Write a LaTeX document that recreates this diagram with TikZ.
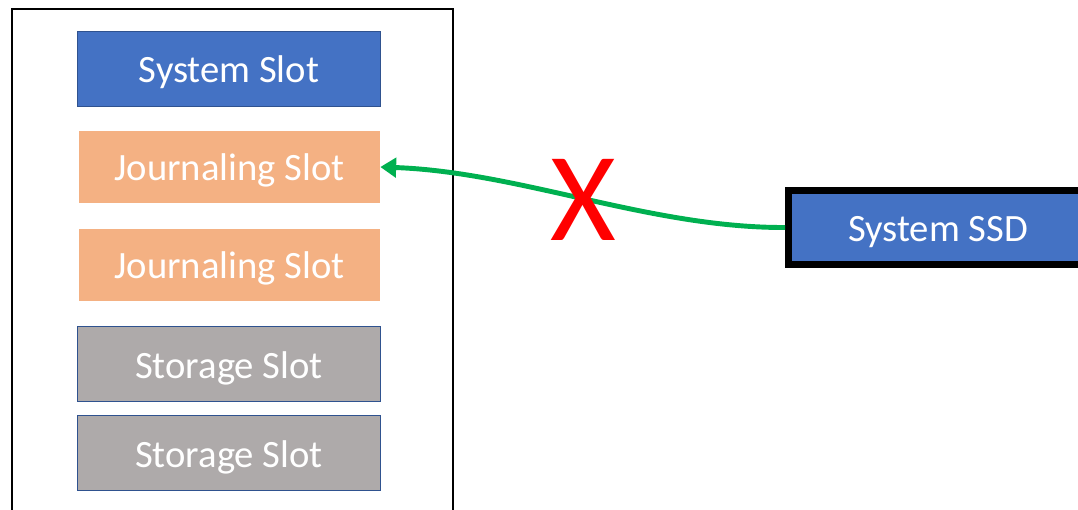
\documentclass[tikz,border=0pt]{standalone}
\usepackage{fontspec}
\setmainfont{Carlito}
\usetikzlibrary{arrows.meta}
\definecolor{slotblue}{HTML}{4472C4}
\definecolor{edgeblue}{HTML}{2F528F}
\definecolor{slotorange}{HTML}{F4B183}
\definecolor{slotgray}{HTML}{AEAAAA}
\definecolor{linkgreen}{HTML}{00B050}
\pgfkeys{tikz/slotbox/.style={rectangle, inner sep=0pt,
                                  minimum width=6.05cm, minimum height=1.49cm,
                                  text height=0.56cm, text depth=0pt,
                                  text=white, font=\fontsize{22}{26}\selectfont}}
\pgfkeys{tikz/framedslot/.style={slotbox, draw=edgeblue, line width=0.8pt}}

\begin{document}
\begin{tikzpicture}[x=0.02cm, y=-0.02cm]
                \useasboundingbox (0,0) rectangle (1078,510);
                \clip (0,0) rectangle (1078,510);

                % chassis, open at the bottom
                \draw[line width=1.1pt] (12,530) -- (12,9) -- (453,9) -- (453,530);

                \node[framedslot, fill=slotblue] (sys) at (229, 69) {System Slot};
                \node[slotbox, fill=slotorange, minimum width=6.02cm, minimum height=1.44cm] (j1) at (229.5, 167) {Journaling Slot};
                \node[slotbox, fill=slotorange, minimum width=6.02cm, minimum height=1.44cm] (j2) at (229.5, 265) {Journaling Slot};
                \node[framedslot, fill=slotgray] (s1) at (229, 364) {Storage Slot};
                \node[framedslot, fill=slotgray] (s2) at (229, 453) {Storage Slot};

                \node[slotbox, fill=slotblue, draw=black, line width=3.9pt,
                      minimum width=5.98cm, minimum height=1.48cm] (ssd) at (938, 227.5) {System SSD};

                \draw[linkgreen, line width=2.8pt, -{Triangle[length=9pt, width=11pt]}]
                    (ssd.west) .. controls (650,228) and (520,172) .. (j1.east);

                \node[text=red, font=\fontsize{72}{80}\selectfont, inner sep=0pt] (cross) at (583, 200) {X};
            \end{tikzpicture}
\end{document}
